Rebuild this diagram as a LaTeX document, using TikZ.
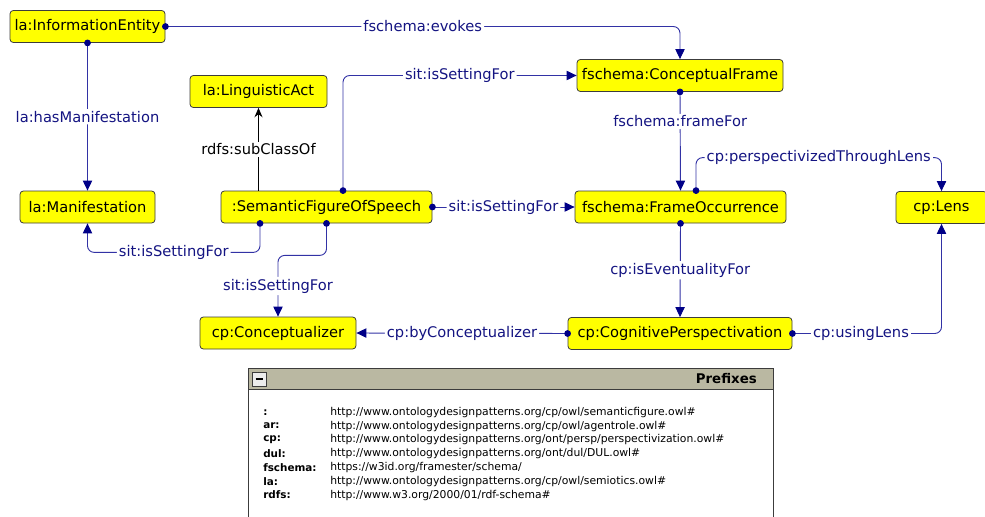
\documentclass[tikz,border=0pt]{standalone}
\usepackage{fontspec}
\setmainfont{DejaVu Sans}
\usepackage{xcolor}
\usetikzlibrary{positioning,calc,arrows.meta}

\definecolor{edgeblue}{RGB}{50,50,165}
\definecolor{tipblue}{RGB}{0,0,135}
\definecolor{lblblue}{RGB}{20,20,130}
\definecolor{boxyellow}{RGB}{255,255,0}
\definecolor{boxline}{RGB}{60,60,60}
\definecolor{headgray}{RGB}{186,184,162}

\tikzset{
  cls/.style={draw=boxline, fill=boxyellow, rounded corners=2.5pt, line width=0.6pt,
    minimum height=24pt, inner xsep=1pt, font=\fontsize{11}{13}\selectfont},
  rel/.style={draw=edgeblue, line width=0.7pt, rounded corners=5pt,
    {Circle[length=5pt,color=tipblue]}-{Triangle[length=7.5pt,width=7pt,color=tipblue]},
    shorten <=-2.5pt},
  subrel/.style={draw=black, line width=0.6pt, -{Stealth[length=7pt,width=6pt]}},
  lbl/.style={fill=white, inner sep=1.5pt, text=lblblue, font=\fontsize{11}{13}\selectfont},
  sublbl/.style={fill=white, inner sep=1.5pt, text=black, font=\fontsize{11}{13}\selectfont},
  pfx/.style={anchor=west, inner sep=0pt, font=\bfseries\fontsize{7.8}{9}\selectfont},
  uri/.style={anchor=west, inner sep=0pt, font=\fontsize{8.1}{9}\selectfont}
}

\begin{document}
\begin{tikzpicture}[x=0.75pt,y=-0.75pt]
  \useasboundingbox (0,0) rectangle (985,517);

  % classes
  \node[cls, minimum width=116.25pt] (ie) at (87.5,26.5) {la:InformationEntity};
  \node[cls, minimum width=102.75pt] (la) at (258.5,91.5) {la:LinguisticAct};
  \node[cls, minimum width=154.5pt] (cf) at (680,75.5) {fschema:ConceptualFrame};
  \node[cls, minimum width=101.25pt] (man) at (87.5,207) {la:Manifestation};
  \node[cls, minimum width=158.25pt] (sfs) at (326.5,207) {:SemanticFigureOfSpeech};
  \node[cls, minimum width=158.25pt] (fo) at (680.5,207) {fschema:FrameOccurrence};
  \node[cls, minimum width=68.25pt] (lens) at (941.5,207.5) {cp:Lens};
  \node[cls, minimum width=117pt] (con) at (278,333) {cp:Conceptualizer};
  \node[cls, minimum width=168pt] (cpv) at (680,333.5) {cp:CognitivePerspectivation};

  % helper points on the borders
  \coordinate (sfsA) at ($(sfs.north)+(16.5,0)$);
  \coordinate (sfsB) at ($(sfs.south)+(-66.5,0)$);
  \coordinate (foA) at ($(fo.north)+(15.5,0)$);

  % relations
  \draw[rel] (ie.east) -- node[lbl]{fschema:evokes} (ie.east -| cf.north) -- (cf.north);
  \draw[rel] (ie.south) -- node[lbl]{la:hasManifestation} (man.north);
  \draw[subrel] (la.south |- sfs.north) -- node[sublbl]{rdfs:subClassOf} (la.south);
  \draw[rel] (sfsA) -- (sfsA |- cf.west) -- node[lbl]{sit:isSettingFor} (cf.west);
  \draw[rel] (sfs.east) -- node[lbl]{sit:isSettingFor} (fo.west);
  \draw[rel] (sfsB) -- ++(0,29) -| node[lbl,pos=0.25]{sit:isSettingFor} (man.south);
  \draw[rel] (sfs.south) -- ++(0,32) -| node[lbl,pos=0.75]{sit:isSettingFor} (con.north);
  \draw[rel] (cf.south) -- node[lbl,pos=0.3]{fschema:frameFor} (fo.north);
  \draw[rel] (foA) -- ++(0,-33) -| node[lbl,pos=0.25]{cp:perspectivizedThroughLens} (lens.north);
  \draw[rel] (fo.south) -- node[lbl]{cp:isEventualityFor} (cpv.north);
  \draw[rel] (cpv.west) -- node[lbl]{cp:byConceptualizer} (con.east);
  \draw[rel] (cpv.east) -| node[lbl,pos=0.23]{cp:usingLens} (lens.south);

  % prefixes panel
  \draw[draw=boxline, line width=0.7pt, fill=white] (248,520) -- (248,368) -- (773,368) -- (773,520);
  \draw[draw=boxline, line width=0.5pt, fill=headgray] (248,368) rectangle (773,389);
  \draw[draw=boxline, line width=0.5pt, fill=gray!15] (252,372) rectangle (266,386);
  \draw[line width=1pt] (255.5,379) -- (262.5,379);
  \node[anchor=east, inner sep=0pt, font=\bfseries\fontsize{10}{12}\selectfont] (ptitle) at (757,379) {Prefixes};
  \foreach \p/\u [count=\i] in {:/{http://www.ontologydesignpatterns.org/cp/owl/semanticfigure.owl\#},
      ar:/{http://www.ontologydesignpatterns.org/cp/owl/agentrole.owl\#},
      cp:/{http://www.ontologydesignpatterns.org/ont/persp/perspectivization.owl\#},
      dul:/{http://www.ontologydesignpatterns.org/ont/dul/DUL.owl\#},
      fschema:/{https://w3id.org/framester/schema/},
      la:/{http://www.ontologydesignpatterns.org/cp/owl/semiotics.owl\#},
      rdfs:/{http://www.w3.org/2000/01/rdf-schema\#}}{
    \node[pfx] (pfx\i) at (263,398.5+13.8*\i) {\p};
    \node[uri] (uri\i) at (330,398.5+13.8*\i) {\u};
  }
\end{tikzpicture}
\end{document}
